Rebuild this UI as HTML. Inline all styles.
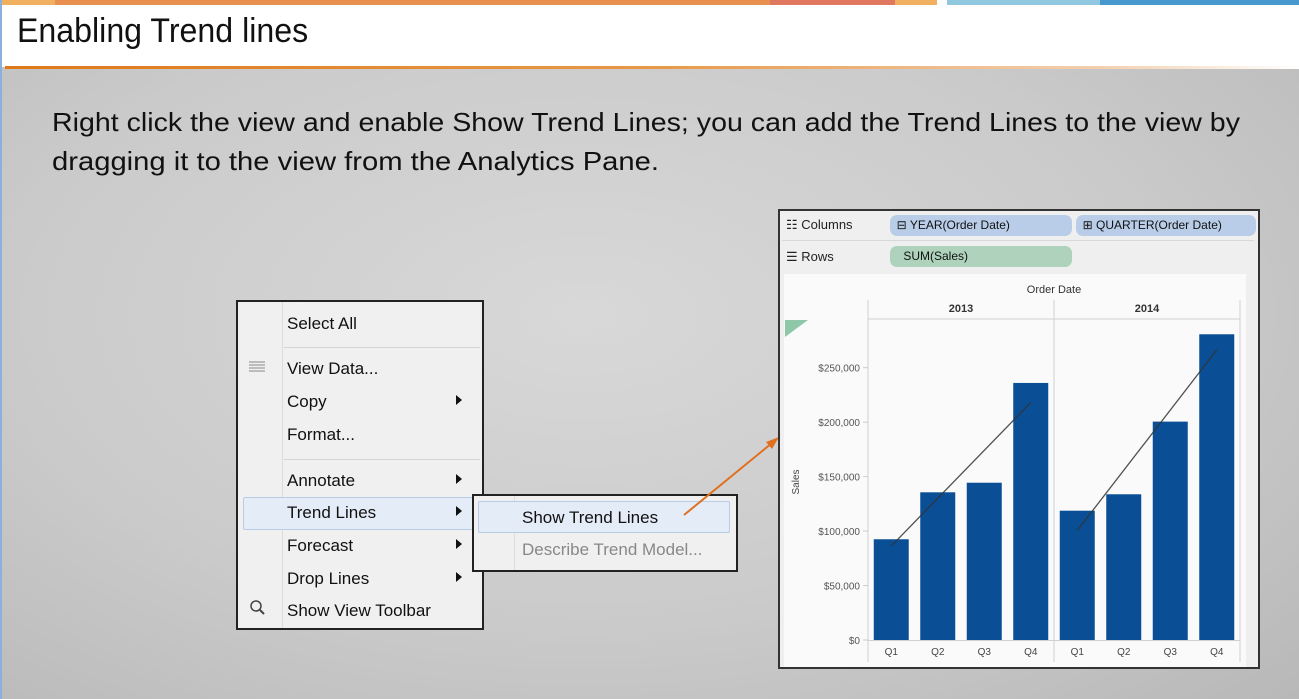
<!DOCTYPE html>
<html><head><meta charset="utf-8">
<style>
html,body{margin:0;padding:0;width:1299px;height:699px;overflow:hidden;font-family:"Liberation Sans",sans-serif;}
#page{position:relative;width:1299px;height:699px;background:radial-gradient(ellipse at 45% 45%,#d8d8d8 0%,#cbcbcb 55%,#b8b8b8 100%);}
.abs{position:absolute;}
</style></head>
<body>
<div id="page">
  <div class="abs" style="left:0;top:0;width:1299px;height:5px;background:linear-gradient(90deg,#f0b060 0 55px,#e89050 55px 770px,#e07860 770px 895px,#f0b060 895px 937px,#fff 937px 947px,#90c8e0 947px 1100px,#4898d0 1100px)"></div>
  <div class="abs" style="left:0;top:5px;width:1299px;height:62px;background:#fff"></div>
  <div class="abs" style="left:17px;top:12px;font-size:34px;color:#111;transform:scaleX(0.945);transform-origin:0 0;white-space:nowrap;">Enabling Trend lines</div>
  <div class="abs" style="left:5px;top:66px;width:1294px;height:3px;background:linear-gradient(90deg,#e07818,#e89848 50%,#f3d0b0 85%,#fff)"></div>
  <div class="abs" style="left:0;top:0;width:2px;height:699px;background:#8ab0e0"></div>

  <svg class="abs" style="left:0;top:0" width="1299" height="699">
    <text x="52" y="131" font-size="26" fill="#111" textLength="1188" lengthAdjust="spacingAndGlyphs" font-family="Liberation Sans, sans-serif">Right click the view and enable Show Trend Lines; you can add the Trend Lines to the view by</text>
    <text x="52" y="170" font-size="26" fill="#111" textLength="607" lengthAdjust="spacingAndGlyphs" font-family="Liberation Sans, sans-serif">dragging it to the view from the Analytics Pane.</text>
  </svg>

  <div class="abs" style="left:236px;top:300px;width:244px;height:326px;border:2px solid #222;background:#f0f0f0">
    <div class="abs" style="left:44px;top:0;width:1px;height:326px;background:#dcdcdc"></div>
    <div class="abs" style="left:46px;top:45px;width:196px;height:1px;background:#d4d4d4"></div>
    <div class="abs" style="left:46px;top:157px;width:196px;height:1px;background:#d4d4d4"></div>
    <div class="abs" style="left:5px;top:195px;width:230px;height:31px;background:#e4ecf8;border:1px solid #b8cce8;border-radius:2px"></div>
  </div>
  <svg class="abs" style="left:0;top:0;pointer-events:none" width="1299" height="699">
    <g font-size="17" fill="#111" font-family="Liberation Sans, sans-serif">
      <text x="287" y="329">Select All</text>
      <text x="287" y="374">View Data...</text>
      <text x="287" y="407">Copy</text>
      <text x="287" y="440">Format...</text>
      <text x="287" y="486">Annotate</text>
      <text x="287" y="518">Trend Lines</text>
      <text x="287" y="551">Forecast</text>
      <text x="287" y="584">Drop Lines</text>
      <text x="287" y="616">Show View Toolbar</text>
    </g>
    <g fill="#111">
      <path d="M456 395 l6 5 l-6 5z"/><path d="M456 474 l6 5 l-6 5z"/><path d="M456 506 l6 5 l-6 5z"/><path d="M456 539 l6 5 l-6 5z"/><path d="M456 572 l6 5 l-6 5z"/>
    </g>
    <g stroke="#888" stroke-width="1"><line x1="249" y1="362" x2="265" y2="362"/><line x1="249" y1="365" x2="265" y2="365"/><line x1="249" y1="368" x2="265" y2="368"/><line x1="249" y1="371" x2="265" y2="371"/></g>
    <circle cx="256" cy="606" r="5" fill="none" stroke="#444" stroke-width="1.5"/><line x1="260" y1="610" x2="264" y2="614" stroke="#444" stroke-width="2"/>
  </svg>

  <div class="abs" style="left:472px;top:494px;width:262px;height:74px;border:2px solid #222;background:#f0f0f0">
    <div class="abs" style="left:40px;top:0;width:1px;height:74px;background:#dcdcdc"></div>
    <div class="abs" style="left:4px;top:5px;width:250px;height:30px;background:#e4ecf8;border:1px solid #b8cce8;border-radius:2px"></div>
  </div>
  <svg class="abs" style="left:0;top:0;pointer-events:none" width="1299" height="699">
    <text x="522" y="523" font-size="17" fill="#111" font-family="Liberation Sans, sans-serif">Show Trend Lines</text>
    <text x="522" y="555" font-size="17" fill="#888" font-family="Liberation Sans, sans-serif">Describe Trend Model...</text>
    <line x1="684" y1="515" x2="772" y2="443" stroke="#e07020" stroke-width="2"/>
    <path d="M779 437 L766 442 L772 449 Z" fill="#e07020"/>
  </svg>

  <div class="abs" style="left:778px;top:209px;width:478px;height:456px;border:2px solid #333;background:#efefef">
    <div class="abs" style="left:4px;top:63px;width:462px;height:393px;background:#fafafa"></div>
  </div>
  <div class="abs" style="left:782px;top:240px;width:472px;height:1px;background:#d8d8d8"></div>
  <div class="abs" style="left:890px;top:215px;width:182px;height:21px;border-radius:7px;background:#b9cde8;font-size:12px;line-height:21px;color:#111">&nbsp;&nbsp;&#8863; YEAR(Order Date)</div>
  <div class="abs" style="left:1076px;top:215px;width:180px;height:21px;border-radius:7px;background:#b9cde8;font-size:12px;line-height:21px;color:#111">&nbsp;&nbsp;&#8862; QUARTER(Order Date)</div>
  <div class="abs" style="left:890px;top:246px;width:182px;height:21px;border-radius:7px;background:#aed2bc;font-size:12px;line-height:21px;color:#111">&nbsp;&nbsp;&nbsp;&nbsp;SUM(Sales)</div>
  <div class="abs" style="left:786px;top:217px;font-size:13px;color:#222">&#9783; Columns</div>
  <div class="abs" style="left:786px;top:249px;font-size:13px;color:#222">&#9776; Rows</div>

  <svg id="chart" class="abs" style="left:0;top:0" width="1299" height="699"></svg>
</div>
<script>
const years = ["2013","2014"];
const quarters = ["Q1","Q2","Q3","Q4"];
const sales2013 = [92500,135600,144400,236000];
const sales2014 = [118700,133800,200500,280700];
const yTicks = [0,50000,100000,150000,200000,250000];
const yTickLabels = ["$0","$50,000","$100,000","$150,000","$200,000","$250,000"];

const svg = document.getElementById('chart');
const NS = 'http://www.w3.org/2000/svg';
const paneLeft = 868, paneW = 186, y0 = 640, pxPer = 272.3/250000;
function yScale(v){ return y0 - v*pxPer; }
function xBand(p,i){ return paneLeft + p*paneW + i*(paneW/4); }
function mk(tag, attrs){ const e=document.createElementNS(NS,tag); for(const k in attrs) e.setAttribute(k,attrs[k]); svg.appendChild(e); return e; }

let t = mk('text',{x:1054,y:293,'font-size':11,'text-anchor':'middle',fill:'#333'});
t.textContent='Order Date';


let hl = mk('line',{x1:868,y1:319,x2:1240,y2:319,stroke:'#d0d0d0'});


for(let p=0;p<=2;p++){
  const v = mk('line',{x1:paneLeft+p*paneW,y1:300,x2:paneLeft+p*paneW,y2:662,stroke:'#d0d0d0'});
  
  
}
let base = mk('line',{x1:868,y1:640.5,x2:1240,y2:640.5,stroke:'#d0d0d0'});



yTicks.forEach((v,i)=>{
  const y=yScale(v);
  const l = mk('text',{x:860,y:y+4,'font-size':10,'text-anchor':'end',fill:'#555'});
  l.textContent=yTickLabels[i];
  
  
  const tk = mk('line',{x1:863,y1:y,x2:868,y2:y,stroke:'#ccc'});
  
  
});
let yt = mk('text',{x:0,y:0,'font-size':10,'text-anchor':'middle',fill:'#444',transform:'translate(799,482) rotate(-90)'});
yt.textContent='Sales';


let tri = mk('path',{d:'M785 320 L808 320 L785 337 Z',fill:'#8ec8a8'});



[sales2013,sales2014].forEach((series,p)=>{
  const yl = mk('text',{x:paneLeft+p*paneW+paneW/2,y:312,'font-size':11,'font-weight':'bold','text-anchor':'middle',fill:'#333'});
  yl.textContent=years[p];
  
  
  series.forEach((v,i)=>{
    const bw=35, cx=xBand(p,i)+paneW/8;
    const r = mk('rect',{x:cx-bw/2,y:yScale(v),width:bw,height:y0-yScale(v),fill:'#0a4f96'});
    
    
    const q = mk('text',{x:cx,y:655,'font-size':10,'text-anchor':'middle',fill:'#444'});
    q.textContent=quarters[i];
    
    
  });
  const n=series.length, mx=(n-1)/2, my=series.reduce((a,b)=>a+b,0)/n;
  let sxy=0,sxx=0; series.forEach((v,i)=>{sxy+=(i-mx)*(v-my); sxx+=(i-mx)*(i-mx);});
  const slope=sxy/sxx;
  const fx=i=>xBand(p,i)+paneW/8;
  const tl = mk('line',{x1:fx(0),y1:yScale(my+slope*(0-mx)),x2:fx(n-1),y2:yScale(my+slope*(n-1-mx)),stroke:'#333','stroke-width':1.3,opacity:0.85});
  
  
});
</script>
</body></html>
